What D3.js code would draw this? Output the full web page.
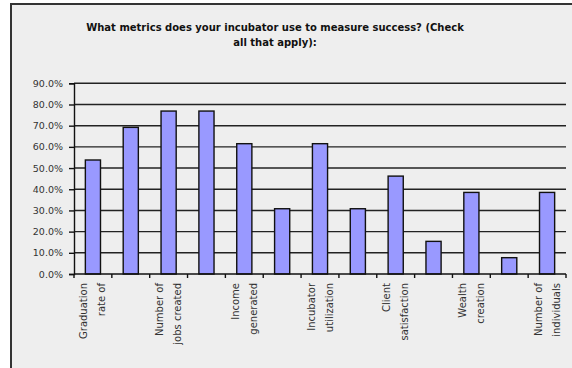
<!DOCTYPE html>
<html>
<head>
<meta charset="utf-8">
<script src="https://cdn.jsdelivr.net/npm/d3@7"></script>
<style>
  html, body { margin: 0; padding: 0; background: #ffffff; }
  svg { display: block; }
  text { font-family: "DejaVu Sans", Verdana, sans-serif; }
</style>
</head>
<body>
<svg id="chart" width="572" height="368"></svg>
<script>
// ---- data ----
const titleLines = ["What metrics does your incubator use to measure success? (Check", "all that apply):"];
// 13 categories; Excel only labels every other one
const categories = [
  "Graduation\nrate of", "", "Number of\njobs created", "", "Income\ngenerated", "",
  "Incubator\nutilization", "", "Client\nsatisfaction", "", "Wealth\ncreation", "",
  "Number of\nindividuals"
];
const values = [53.8, 69.2, 76.9, 76.9, 61.5, 30.8, 61.5, 30.8, 46.2, 15.4, 38.5, 7.7, 38.5];
const yTicks = [0, 10, 20, 30, 40, 50, 60, 70, 80, 90];

// ---- layout ----
const svg = d3.select("#chart");
const plot = { left: 74, right: 566, top: 83.3, bottom: 274 };

// chart area background + border
svg.append("rect")
  .attr("x", 11).attr("y", 4)
  .attr("width", 572).attr("height", 380)
  .attr("fill", "#eeeeee")
  .attr("stroke", "#333333").attr("stroke-width", 2);

// title
svg.append("g").selectAll("text").data(titleLines).join("text")
  .attr("x", 275)
  .attr("y", (d, i) => 27 + i * 15)
  .attr("text-anchor", "middle")
  .attr("dominant-baseline", "central")
  .attr("font-size", 10)
  .attr("font-weight", "bold")
  .attr("fill", "#111")
  .text(d => d);

const x = d3.scaleBand()
  .domain(d3.range(categories.length))
  .range([plot.left, plot.right])
  .paddingInner(0).paddingOuter(0);

const y = d3.scaleLinear().domain([0, 90]).range([plot.bottom, plot.top]);

// gridlines
svg.append("g").selectAll("line").data(yTicks.filter(t => t > 0)).join("line")
  .attr("x1", plot.left).attr("x2", plot.right)
  .attr("y1", d => y(d)).attr("y2", d => y(d))
  .attr("stroke", "#222").attr("stroke-width", 1.4);

// bars
const bw = x.bandwidth() * 0.4;
svg.append("g").selectAll("rect").data(values).join("rect")
  .attr("x", (d, i) => x(i) + (x.bandwidth() - bw) / 2)
  .attr("y", d => y(d))
  .attr("width", bw)
  .attr("height", d => plot.bottom - y(d))
  .attr("fill", "#9999ff")
  .attr("stroke", "#111").attr("stroke-width", 1.4);

// y axis
const yAxis = d3.axisLeft(y).tickValues(yTicks).tickSize(5).tickPadding(6)
  .tickFormat(d => d3.format(".1f")(d) + "%");
const gy = svg.append("g").attr("transform", `translate(${plot.left},0)`).call(yAxis);
gy.select(".domain").attr("stroke", "#111").attr("stroke-width", 1.4);
gy.selectAll(".tick line").attr("stroke", "#111").attr("stroke-width", 1.4);
gy.selectAll(".tick text")
  .attr("font-family", "DejaVu Sans, Verdana, sans-serif")
  .attr("font-size", 9.5).attr("fill", "#333");

// x axis line + ticks at category boundaries
svg.append("line")
  .attr("x1", plot.left).attr("x2", plot.right)
  .attr("y1", plot.bottom).attr("y2", plot.bottom)
  .attr("stroke", "#111").attr("stroke-width", 1.4);
svg.append("g").selectAll("line").data(d3.range(categories.length + 1)).join("line")
  .attr("x1", i => plot.left + i * x.step()).attr("x2", i => plot.left + i * x.step())
  .attr("y1", plot.bottom).attr("y2", plot.bottom + 4)
  .attr("stroke", "#111").attr("stroke-width", 1.4);

// category labels (rotated, two lines)
const lg = svg.append("g");
categories.forEach((c, i) => {
  if (!c) return;
  const lines = c.split("\n");
  const cx = x(i) + x.bandwidth() / 2;
  const gap = 18;
  lines.forEach((ln, j) => {
    const dx = (j - (lines.length - 1) / 2) * gap;
    lg.append("text")
      .attr("transform", `translate(${cx + dx},283) rotate(-90)`)
      .attr("text-anchor", "end")
      .attr("dominant-baseline", "central")
      .attr("font-size", 10)
      .attr("fill", "#333")
      .text(ln);
  });
});
</script>
</body>
</html>
